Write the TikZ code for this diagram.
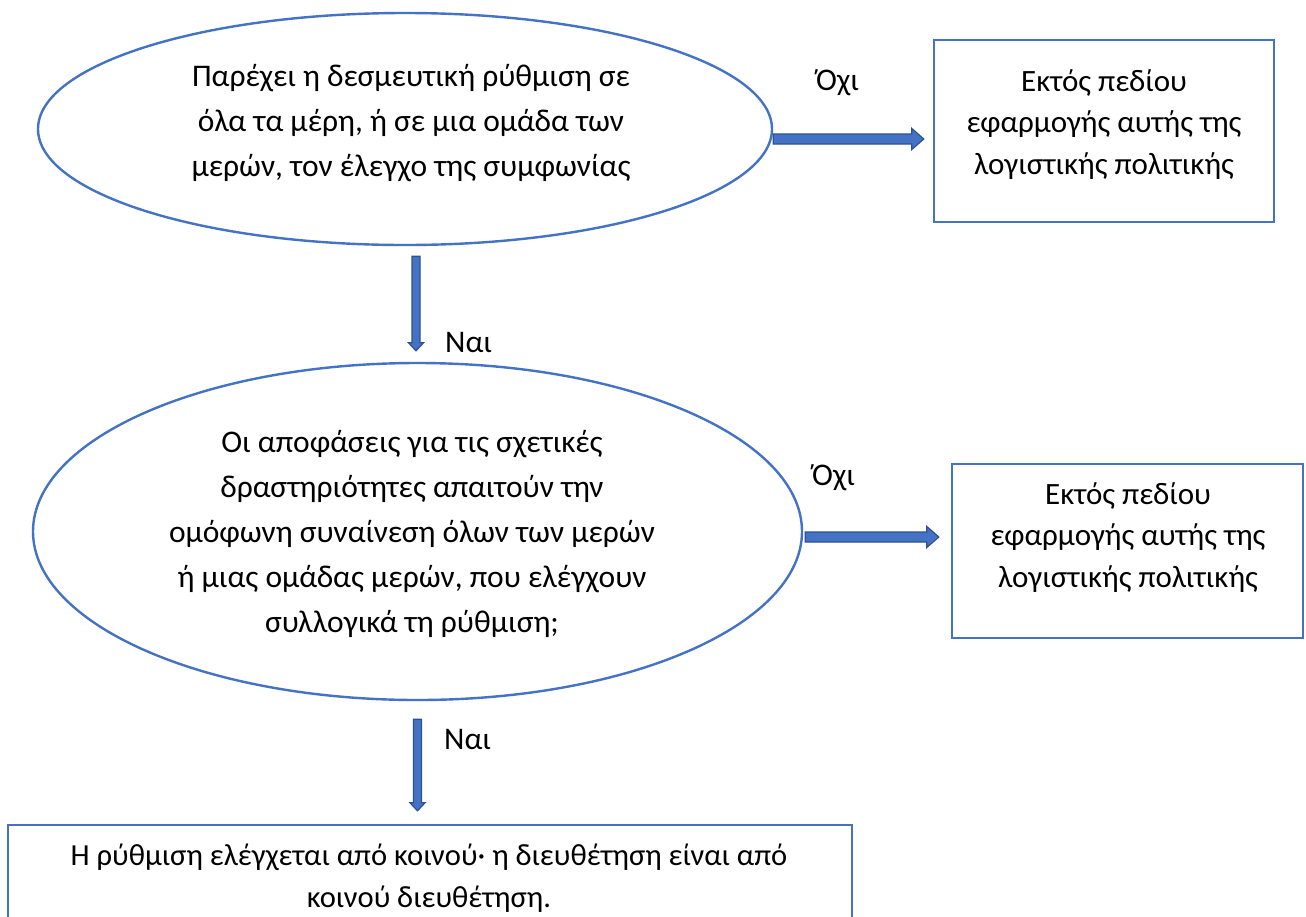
\documentclass[tikz,border=0pt]{standalone}
\usepackage{fontspec}
\setmainfont{Carlito}
\usetikzlibrary{shapes.geometric,calc}
\definecolor{ofblue}{HTML}{4472C4}
\definecolor{ofdark}{HTML}{2F528F}
\newcommand\harrowdraw[2]{%
  \path[blockarrow] let \p1=(#1), \p2=(#2) in
    ({\x1},{\y1+5pt}) -- ({\x2-12pt},{\y1+5pt}) -- ({\x2-12pt},{\y1+10.5pt}) --
    ({\x2},{\y1}) -- ({\x2-12pt},{\y1-10.5pt}) -- ({\x2-12pt},{\y1-5pt}) --
    ({\x1},{\y1-5pt}) -- cycle;}
\newcommand\varrowdraw[2]{%
  \path[blockarrow] let \p1=(#1), \p2=(#2) in
    ({\x1-4pt},{\y1}) -- ({\x1-4pt},{\y2+8pt}) -- ({\x1-7.5pt},{\y2+8pt}) --
    ({\x1},{\y2}) -- ({\x1+7.5pt},{\y2+8pt}) -- ({\x1+4pt},{\y2+8pt}) --
    ({\x1+4pt},{\y1}) -- cycle;}
\begin{document}
\begin{tikzpicture}[x=1pt,y=-1pt,
  decision/.style={ellipse, draw=ofblue, line width=2.4pt, inner sep=0pt},
  outbox/.style={rectangle, draw=ofblue, line width=2.4pt, inner sep=0pt},
  etxt/.style={align=center, inner sep=0pt, anchor=base, font=\fontsize{31.5}{45}\selectfont},
  btxt/.style={align=center, inner sep=0pt, anchor=base, font=\fontsize{31}{41.5}\selectfont},
  lbl/.style={inner sep=0pt, anchor=base west, font=\fontsize{31.5}{38}\selectfont},
  blockarrow/.style={fill=ofblue, draw=ofdark, line width=1.2pt, line join=miter}]
\useasboundingbox (0,0) rectangle (1306,916);
\clip (0,0) rectangle (1306,916);
\fill[white] (0,0) rectangle (1306,916);
% shapes
\node[decision, minimum width=734pt, minimum height=232pt] (e1) at (405,129) {};
\node[decision, minimum width=769pt, minimum height=337pt] (e2) at (417.5,531.5) {};
\node[outbox, minimum width=340pt, minimum height=182pt] (b1) at (1104,131) {};
\node[outbox, minimum width=351pt, minimum height=174pt] (b2) at (1127.5,551) {};
\node[outbox, minimum width=844pt, minimum height=130pt] (b3) at (430,890) {};
% texts (base anchor = baseline of the last line)
\node[etxt] (t1) at (411,176) {Παρέχει η δεσμευτική ρύθμιση σε\\όλα τα μέρη, ή σε μια ομάδα των\\μερών, τον έλεγχο της συμφωνίας};
\node[etxt] (t2) at (412,632) {Οι αποφάσεις για τις σχετικές\\δραστηριότητες απαιτούν την\\ομόφωνη συναίνεση όλων των μερών\\ή μιας ομάδας μερών, που ελέγχουν\\συλλογικά τη ρύθμιση;};
\node[btxt] (t3) at (1104,174) {Εκτός πεδίου\\εφαρμογής αυτής της\\λογιστικής πολιτικής};
\node[btxt] (t4) at (1128,587) {Εκτός πεδίου\\εφαρμογής αυτής της\\λογιστικής πολιτικής};
\node[btxt, font=\fontsize{30.6}{42}\selectfont] (t5) at (429,907) {Η ρύθμιση ελέγχεται από κοινού· η διευθέτηση είναι από\\κοινού διευθέτηση.};
% connectors
\coordinate (a1s) at ($(e1.east)+(0,10)$);
\coordinate (a1e) at ($(b1.west |- a1s)+(-9,0)$);
\coordinate (a2s) at ($(e2.east)+(2,5.5)$);
\coordinate (a2e) at ($(b2.west |- a2s)+(-12,0)$);
\coordinate (a3s) at ($(e1.south)+(11,10)$);
\coordinate (a3e) at ($(a3s |- e2.north)+(0,-11)$);
\coordinate (a4s) at ($(e2.south)+(0,18)$);
\coordinate (a4e) at ($(a4s |- b3.north)+(0,-13)$);
\harrowdraw{a1s}{a1e}
\harrowdraw{a2s}{a2e}
\varrowdraw{a3s}{a3e}
\varrowdraw{a4s}{a4e}
% labels
\node[lbl] (l1) at (816,90) {Όχι};
\node[lbl] (l2) at (812,485) {Όχι};
\node[lbl] (l3) at (445,352) {Ναι};
\node[lbl] (l4) at (444,749) {Ναι};
\end{tikzpicture}
\end{document}
